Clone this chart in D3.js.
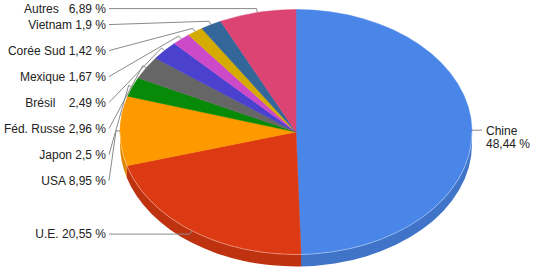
<!DOCTYPE html>
<meta charset="utf-8">
<style>
  body { margin: 0; background: #fff; }
  svg { display: block; font-family: "Liberation Sans", Arial, sans-serif; font-size: 12px; }
  .lbl { fill: #222; white-space: pre; }
  .lead { fill: none; stroke: #8a8a8a; stroke-width: 1; }
</style>
<body>
<svg width="549" height="278"></svg>
<script src="https://d3js.org/d3.v7.min.js"></script>
<script>
  // data, clockwise from 12 o'clock
  var countries = ["Chine", "U.E.", "USA", "Japon", "Féd. Russe", "Brésil", "Mexique", "Corée Sud", "Vietnam", "Autres"];
  var shares = [48.44, 20.55, 8.95, 2.5, 2.96, 2.49, 1.67, 1.42, 1.9, 6.89];
  var labelText = ["Chine\n48,44 %", "U.E. 20,55 %", "USA 8,95 %", "Japon 2,5 %", "Féd. Russe 2,96 %",
    "Brésil    2,49 %", "Mexique 1,67 %", "Corée Sud 1,42 %", "Vietnam 1,9 %", "Autres   6,89 %"];
  var colors = ["#4a86e8", "#dc3a12", "#ff9900", "#078a07", "#666666", "#4b41cf", "#cc4ac8", "#d6ab00", "#336699", "#dc4474"];

  var svg = d3.select("svg"),
    cx = 296, cy = 132, rx = 176, ry = 122.5, depth = 12;

  var pie = d3.pie().sort(null).value(function(d) { return d; })
    .startAngle(0).endAngle(2 * Math.PI);
  var arcs = pie(shares);

  function pt(a, grow) {
    grow = grow || 0;
    return [cx + (rx + grow) * Math.sin(a), cy - (ry + grow) * Math.cos(a)];
  }

  // side walls (front half only)
  var sides = svg.append("g");
  arcs.forEach(function(d, i) {
    var s = Math.max(d.startAngle, Math.PI / 2),
      e = Math.min(d.endAngle, 3 * Math.PI / 2);
    if (e <= s) return;
    var p0 = pt(s), p1 = pt(e);
    var path = "M" + p0 + "A" + rx + "," + ry + " 0 0 1 " + p1 +
      "L" + [p1[0], p1[1] + depth] +
      "A" + rx + "," + ry + " 0 0 0 " + [p0[0], p0[1] + depth] + "Z";
    sides.append("path")
      .attr("d", path)
      .attr("fill", d3.color(colors[i]).darker(0.4));
  });

  // top face
  svg.append("g").selectAll("path")
    .data(arcs)
    .enter().append("path")
    .attr("d", function(d) {
      var p0 = pt(d.startAngle), p1 = pt(d.endAngle);
      var big = d.endAngle - d.startAngle > Math.PI ? 1 : 0;
      return "M" + [cx, cy] + "L" + p0 + "A" + rx + "," + ry + " 0 " + big + " 1 " + p1 + "Z";
    })
    .attr("fill", function(d, i) { return colors[i]; })
    .attr("stroke", function(d, i) { return colors[i]; })
    .attr("stroke-width", 0.5);

  // light rim edge on the front
  var r0 = pt(Math.PI / 2), r1 = pt(3 * Math.PI / 2);
  svg.append("path")
    .attr("d", "M" + r0 + "A" + rx + "," + ry + " 0 0 1 " + r1)
    .attr("fill", "none")
    .attr("stroke", "#fff")
    .attr("stroke-opacity", 0.35);

  // labels
  var textEnd = 106;
  var left = arcs.map(function(d, i) {
    var mid = (d.startAngle + d.endAngle) / 2;
    return { i: i, mid: mid, rim: pt(mid), elbow: pt(mid, 4) };
  });
  var right = left.filter(function(l) { return l.mid < Math.PI; });
  left = left.filter(function(l) { return l.mid >= Math.PI; })
    .sort(function(a, b) { return b.mid - a.mid; });

  // stack left labels top to bottom, 26px apart (top one hugs the frame)
  left.forEach(function(l, k) {
    var want = Math.max(l.elbow[1], 8);
    l.y = k === 0 ? want : Math.max(want, left[k - 1].y + (k === 1 ? 16 : 26));
  });

  var lg = svg.append("g");
  left.forEach(function(l) {
    lg.append("path").attr("class", "lead")
      .attr("d", "M" + [textEnd + 3, l.y] + "L" + l.elbow + "L" + l.rim);
    lg.append("text").attr("class", "lbl")
      .attr("x", textEnd).attr("y", l.y).attr("dy", "0.36em")
      .attr("text-anchor", "end")
      .text(labelText[l.i]);
  });

  right.forEach(function(l) {
    var y = l.elbow[1];
    lg.append("path").attr("class", "lead")
      .attr("d", "M" + l.rim + "L" + [l.elbow[0] + 6, y]);
    var t = lg.append("text").attr("class", "lbl")
      .attr("x", l.elbow[0] + 10).attr("y", y);
    labelText[l.i].split("\n").forEach(function(line, k) {
      t.append("tspan").attr("x", l.elbow[0] + 10)
        .attr("dy", k === 0 ? "0.36em" : "1.13em")
        .text(line);
    });
  });
</script>
</body>
